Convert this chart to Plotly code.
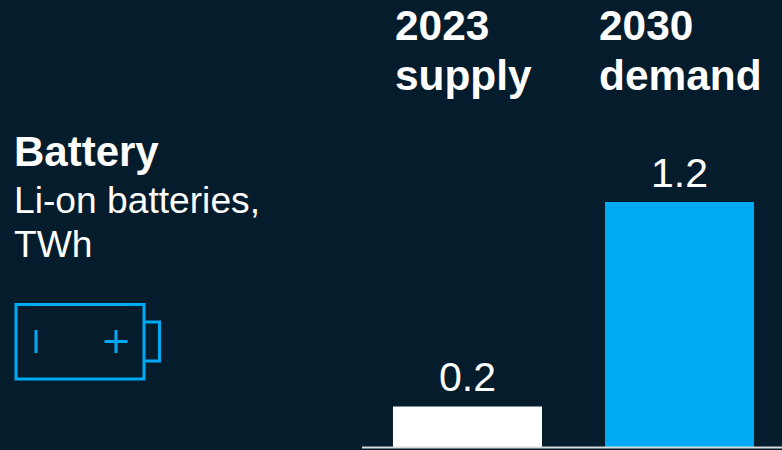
import plotly.graph_objects as go

# Battery capacity, supply versus projected demand
categories = ["2023 supply", "2030 demand"]
values = [0.2, 1.2]
value_labels = ["0.2", "1.2"]
bar_colors = ["#FFFFFF", "#00A9F4"]

WIDTH, HEIGHT = 782, 450
BG = "#051C2C"
BLUE = "#00A9F4"
FONT = "Liberation Sans"


def fx(px):
    return px / WIDTH


def fy(px):
    return 1 - px / HEIGHT


fig = go.Figure(
    go.Bar(
        x=[0, 1],
        y=values,
        width=0.703,
        marker=dict(color=bar_colors, line_width=0),
        hovertext=categories,
    )
)

fig.update_layout(
    width=WIDTH,
    height=HEIGHT,
    autosize=False,
    margin=dict(l=0, r=0, t=0, b=0),
    paper_bgcolor=BG,
    plot_bgcolor=BG,
    showlegend=False,
    xaxis=dict(
        domain=[fx(362), 1],
        range=[-0.4976, 1.4835],
        showgrid=False,
        zeroline=False,
        showticklabels=False,
        ticks="",
        showline=False,
        fixedrange=True,
    ),
    yaxis=dict(
        domain=[fy(447.5), 1],
        range=[0, 447.5 / 204.5],
        showgrid=False,
        zeroline=False,
        showticklabels=False,
        ticks="",
        showline=False,
        fixedrange=True,
    ),
)

# Value labels sit just above each bar
for i, (value, label) in enumerate(zip(values, value_labels)):
    fig.add_annotation(
        xref="x", yref="y", x=i, y=value,
        xanchor="center", yanchor="bottom", yshift=4.5, showarrow=False,
        text=label,
        font=dict(family=FONT, size=41, color="#FFFFFF"),
    )


def add_text(x, y, text, size, bold=False):
    fig.add_annotation(
        xref="paper", yref="paper", x=fx(x), y=fy(y),
        xanchor="left", yanchor="middle", align="left", showarrow=False,
        text=f"<b>{text}</b>" if bold else text,
        font=dict(family=FONT, size=size, color="#FFFFFF"),
        borderpad=0, borderwidth=0,
    )


# Column headers
add_text(395, 25, "2023", 42.4, True)
add_text(395, 76, "supply", 42.4, True)
add_text(599, 25, "2030", 42.4, True)
add_text(599, 76, "demand", 42.4, True)

# Left-hand description
add_text(14, 151, "Battery", 42, True)
add_text(14, 200, "Li-on batteries,", 37.2)
add_text(14, 244, "TWh", 37.2)


def line(x0, y0, x1, y1, color, width):
    fig.add_shape(
        type="line", xref="paper", yref="paper",
        x0=fx(x0), y0=fy(y0), x1=fx(x1), y1=fy(y1),
        line=dict(color=color, width=width),
    )


# Baseline
line(362, 447.5, 782, 447.5, "#D8DADC", 2)

# Battery icon
fig.add_shape(
    type="rect", xref="paper", yref="paper",
    x0=fx(16), y0=fy(304.5), x1=fx(144), y1=fy(379),
    line=dict(color=BLUE, width=3),
)
fig.add_shape(
    type="path", xref="paper", yref="paper",
    path=(
        f"M {fx(144)} {fy(322)} L {fx(159.5)} {fy(322)} "
        f"L {fx(159.5)} {fy(361)} L {fx(144)} {fy(361)}"
    ),
    line=dict(color=BLUE, width=3),
)
line(36, 330, 36, 353, BLUE, 3)
line(116, 330, 116, 353, BLUE, 3)
line(104.5, 341.5, 127.5, 341.5, BLUE, 3)

fig.write_html("out.html")
